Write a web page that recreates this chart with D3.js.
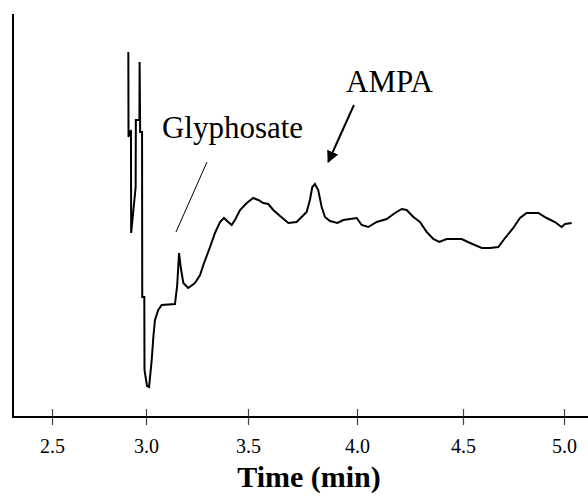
<!DOCTYPE html>
<html>
<head>
<meta charset="utf-8">
<script src="https://cdn.jsdelivr.net/npm/d3@7"></script>
<style>
  html, body { margin: 0; padding: 0; background: #fff; }
  svg { display: block; }
  text { font-family: "Liberation Serif", "Times New Roman", Times, serif; fill: #000; }
</style>
</head>
<body>
<svg id="chart" width="588" height="499"></svg>
<script>
// ---- data (time in min, detector signal in arbitrary units) ----
const times = [2.906, 2.907, 2.920, 2.921, 2.945, 2.946, 2.965, 2.966, 2.969, 2.979,
  2.980, 2.991, 2.992, 3.005, 3.015, 3.028, 3.036, 3.044, 3.060, 3.077,
  3.142, 3.153, 3.162, 3.170, 3.183, 3.207, 3.240, 3.265, 3.281, 3.314,
  3.338, 3.363, 3.382, 3.403, 3.420, 3.436, 3.461, 3.494, 3.524, 3.547,
  3.570, 3.593, 3.616, 3.647, 3.685, 3.723, 3.769, 3.784, 3.795, 3.807,
  3.822, 3.838, 3.853, 3.876, 3.910, 3.937, 3.999, 4.022, 4.053, 4.093,
  4.140, 4.179, 4.211, 4.234, 4.266, 4.297, 4.329, 4.360, 4.388, 4.423,
  4.494, 4.535, 4.593, 4.634, 4.675, 4.708, 4.749, 4.782, 4.815, 4.873,
  4.914, 4.955, 4.988, 5.005, 5.038];
const signal = [365, 280, 287, 184, 230, 297, 297, 355, 285, 285,
  120, 120, 47, 31, 30, 57, 80, 97, 107, 112,
  113, 132, 164, 150, 134, 129, 134, 142, 152, 170,
  184, 195, 199, 195, 192, 197, 207, 214, 219, 217,
  214, 213, 207, 201, 194, 195, 205, 217, 230, 233,
  227, 210, 200, 196, 194, 197, 199, 192, 190, 195,
  198, 204, 208, 207, 200, 195, 185, 178, 175, 178,
  178, 174, 169, 169, 170, 179, 189, 199, 204, 204,
  199, 195, 190, 193, 194];
const tickValues = [2.5, 3.0, 3.5, 4.0, 4.5, 5.0];
const tickLabels = ["2.5", "3.0", "3.5", "4.0", "4.5", "5.0"];
const xTitle = "Time (min)";
const peakNames = ["Glyphosate", "AMPA"];
// annotation anchors in data units: [time, signal]
const glyphLabelAt = [3.078, 279];
const glyphLeader = [[3.299, 255], [3.147, 185]];
const ampaLabelAt = [3.950, 325];
const ampaArrow = [[3.986, 312], [3.868, 255]];

// ---- layout ----
const svg = d3.select("#chart");
const x0 = 13, axisY = 417, topY = 14;
// the printed time axis is slightly non-uniform; follow its tick positions
const x = d3.scaleLinear().domain(tickValues).range([52, 146, 248, 357, 463, 564]);
const y = d3.scaleLinear().domain([0, 403]).range([axisY, topY]);

svg.append("rect").attr("width", 588).attr("height", 499).attr("fill", "#fff");

// y axis (plain line)
svg.append("line")
  .attr("x1", x0).attr("x2", x0).attr("y1", topY).attr("y2", axisY + 1)
  .attr("stroke", "#000").attr("stroke-width", 2);

// x axis
const xAxis = d3.axisBottom(x).tickValues(tickValues)
  .tickFormat((d, i) => tickLabels[i]).tickSize(8).tickPadding(14);
const gx = svg.append("g").attr("transform", `translate(0,${axisY})`).call(xAxis);
gx.select(".domain").remove();
gx.selectAll(".tick line").attr("y1", -8).attr("y2", 8)
  .attr("stroke", "#444").attr("stroke-width", 1.2);
gx.selectAll(".tick text")
  .style("font-family", '"Liberation Serif", "Times New Roman", serif')
  .style("font-size", "20px").attr("fill", "#000");
svg.append("line")
  .attr("x1", x0).attr("x2", 588).attr("y1", axisY).attr("y2", axisY)
  .attr("stroke", "#000").attr("stroke-width", 2.2);

// x title
svg.append("text")
  .attr("x", 309).attr("y", 487).attr("text-anchor", "middle")
  .style("font-size", "30px").style("font-weight", "bold")
  .text(xTitle);

// trace
const pts = times.map((t, i) => [t, signal[i]]);
const line = d3.line().x(d => x(d[0])).y(d => y(d[1]));
svg.append("path").datum(pts)
  .attr("d", line)
  .attr("fill", "none").attr("stroke", "#000").attr("stroke-width", 2)
  .attr("stroke-linejoin", "miter");

// annotations
svg.append("text")
  .attr("x", x(glyphLabelAt[0])).attr("y", y(glyphLabelAt[1]))
  .style("font-size", "31px").text(peakNames[0]);
svg.append("line")
  .attr("x1", x(glyphLeader[0][0])).attr("y1", y(glyphLeader[0][1]))
  .attr("x2", x(glyphLeader[1][0])).attr("y2", y(glyphLeader[1][1]))
  .attr("stroke", "#000").attr("stroke-width", 1);

svg.append("text")
  .attr("x", x(ampaLabelAt[0])).attr("y", y(ampaLabelAt[1]))
  .style("font-size", "31px").text(peakNames[1]);

svg.append("defs").append("marker")
  .attr("id", "arrowhead").attr("viewBox", "0 0 10 10")
  .attr("refX", 9).attr("refY", 5)
  .attr("markerWidth", 6).attr("markerHeight", 6)
  .attr("markerUnits", "strokeWidth")
  .attr("orient", "auto")
  .append("path").attr("d", "M0,0 L10,5 L0,10 z").attr("fill", "#000");

svg.append("line")
  .attr("x1", x(ampaArrow[0][0])).attr("y1", y(ampaArrow[0][1]))
  .attr("x2", x(ampaArrow[1][0])).attr("y2", y(ampaArrow[1][1]))
  .attr("stroke", "#000").attr("stroke-width", 2)
  .attr("marker-end", "url(#arrowhead)");
</script>
</body>
</html>
